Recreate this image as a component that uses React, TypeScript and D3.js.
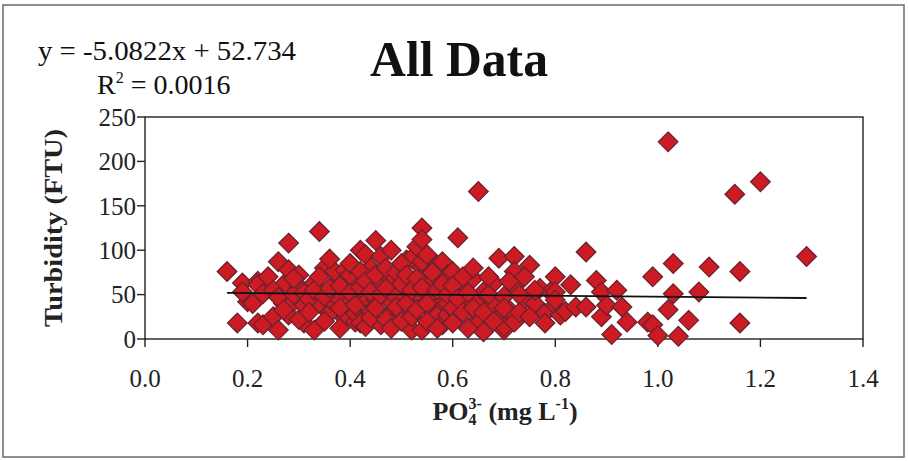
import React from "react";
import * as d3 from "d3";

// PO4 (mg/L) values
const phosphate: number[] = [
  0.16, 0.18, 0.19, 0.20, 0.22, 0.22, 0.19, 0.21, 0.22, 0.23, 0.23, 0.24, 0.25, 0.26, 0.26, 0.27, 0.27, 0.28, 0.28, 0.28,
  0.29, 0.30, 0.30, 0.31, 0.31, 0.33, 0.33, 0.34, 0.34, 0.35, 0.36, 0.37, 0.37, 0.37, 0.38, 0.39, 0.39, 0.40, 0.41, 0.41,
  0.41, 0.42, 0.42, 0.43, 0.43, 0.43, 0.44, 0.44, 0.45, 0.45, 0.46, 0.46, 0.46, 0.48, 0.48, 0.48, 0.50, 0.50, 0.51, 0.51,
  0.51, 0.52, 0.52, 0.53, 0.53, 0.53, 0.54, 0.54, 0.54, 0.54, 0.54, 0.55, 0.56, 0.56, 0.56, 0.57, 0.57, 0.58, 0.58, 0.58,
  0.59, 0.59, 0.59, 0.60, 0.61, 0.61, 0.62, 0.63, 0.64, 0.65, 0.65, 0.65, 0.65, 0.66, 0.66, 0.68, 0.68, 0.69, 0.69, 0.70,
  0.70, 0.71, 0.72, 0.72, 0.72, 0.72, 0.74, 0.75, 0.76, 0.77, 0.78, 0.78, 0.79, 0.80, 0.80, 0.80, 0.80, 0.81, 0.82, 0.83,
  0.84, 0.86, 0.86, 0.88, 0.89, 0.89, 0.90, 0.91, 0.92, 0.93, 0.94, 0.98, 0.99, 0.99, 1.00, 1.02, 1.02, 1.03, 1.03, 1.04,
  1.06, 1.08, 1.10, 1.15, 1.16, 1.16, 1.20, 1.29,
  0.25, 0.26, 0.27, 0.29, 0.29, 0.30, 0.31, 0.32, 0.32, 0.33, 0.34, 0.35, 0.35, 0.36, 0.36, 0.38, 0.38, 0.38, 0.40, 0.40,
  0.40, 0.41, 0.42, 0.42, 0.43, 0.44, 0.44, 0.45, 0.45, 0.46, 0.47, 0.47, 0.47, 0.48, 0.48, 0.49, 0.49, 0.49, 0.50, 0.50,
  0.50, 0.51, 0.51, 0.52, 0.52, 0.53, 0.53, 0.54, 0.55, 0.55, 0.55, 0.56, 0.57, 0.57, 0.58, 0.59, 0.60, 0.60, 0.60, 0.61,
  0.62, 0.62, 0.63, 0.63, 0.64, 0.64, 0.66, 0.67, 0.67, 0.68, 0.70, 0.70, 0.71, 0.73, 0.73, 0.74, 0.75, 0.76,
];

// Turbidity (FTU) values
const turbidity: number[] = [
  76, 18, 63, 42, 65, 18, 53, 40, 61, 51, 16, 70, 25, 87, 10, 61, 40, 108, 78, 27,
  42, 59, 72, 38, 18, 63, 10, 121, 40, 80, 29, 63, 40, 76, 44, 78, 23, 42, 66, 19,
  29, 100, 18, 95, 46, 14, 80, 31, 111, 44, 93, 63, 16, 68, 42, 29, 29, 51, 63, 18,
  89, 91, 10, 44, 104, 52, 125, 112, 80, 10, 87, 63, 31, 50, 68, 83, 27, 42, 16, 87,
  72, 27, 40, 76, 114, 27, 59, 42, 68, 166, 23, 44, 18, 53, 8, 63, 40, 91, 23, 10,
  14, 33, 93, 76, 59, 19, 44, 83, 40, 57, 29, 18, 53, 70, 53, 38, 44, 27, 31, 61,
  36, 98, 36, 66, 53, 25, 38, 5, 55, 36, 19, 19, 70, 16, 4, 222, 33, 85, 51, 3,
  21, 53, 81, 163, 76, 18, 177, 93,
  55, 47, 33, 50, 68, 22, 52, 45, 30, 55, 70, 48, 20, 57, 90, 60, 35, 12, 52, 72,
  85, 38, 58, 76, 65, 53, 24, 72, 35, 50, 80, 22, 57, 100, 12, 48, 75, 36, 85, 62,
  20, 40, 72, 55, 25, 68, 33, 58, 40, 20, 95, 75, 55, 12, 62, 50, 35, 60, 18, 45,
  70, 30, 52, 12, 80, 35, 30, 50, 70, 20, 48, 35, 65, 50, 30, 70, 25, 55,
];

const xTicks: number[] = [0, 0.2, 0.4, 0.6, 0.8, 1.0, 1.2, 1.4];
const yTicks: number[] = [0, 50, 100, 150, 200, 250];
const slope = -5.0822;
const intercept = 52.734;
const trendRange: number[] = [0.16, 1.29];

const W = 908;
const H = 461;
const L = 145, R = 863, T = 117, B = 339;
const FONT = "'Liberation Serif', 'Times New Roman', serif";

export default function App() {
  const x = d3.scaleLinear().domain([0, 1.4]).range([L, R]);
  const y = d3.scaleLinear().domain([0, 250]).range([B, T]);
  const r = 9.8;
  const diamond = `M0,${-r}L${r},0L0,${r}L${-r},0Z`;
  const line = d3
    .line<number>()
    .x((d) => x(d))
    .y((d) => y(slope * d + intercept));

  return (
    <svg
      width={W}
      height={H}
      style={{ position: "absolute", left: 0, top: 0, background: "#fff" }}
      fontFamily={FONT}
    >
      <rect x={0} y={0} width={W} height={H} fill="#fff" />
      <rect x={3} y={5} width={901} height={452} fill="none" stroke="#6a6a6a" strokeWidth={1.5} />

      {/* equation */}
      <text x={38} y={60} fontSize={28} fill="#111" textLength={258} lengthAdjust="spacingAndGlyphs">
        y = -5.0822x + 52.734
      </text>
      <text x={97} y={94} fontSize={28} fill="#111">
        R<tspan fontSize={16} dy={-11}>2</tspan>
        <tspan dy={11}> = 0.0016</tspan>
      </text>

      {/* title */}
      <text x={370} y={76} fontSize={50} fontWeight="bold" fill="#111" textLength={178} lengthAdjust="spacingAndGlyphs">
        All Data
      </text>

      {/* plot frame */}
      <rect x={L} y={T} width={R - L} height={B - T} fill="#fff" stroke="#222" strokeWidth={1.4} />

      {/* y ticks */}
      {yTicks.map((t) => (
        <g key={"y" + t}>
          <line x1={L - 8} x2={L} y1={y(t)} y2={y(t)} stroke="#222" strokeWidth={1.4} />
          <text x={L - 9} y={y(t)} dy="0.35em" textAnchor="end" fontSize={25} fill="#222">
            {t}
          </text>
        </g>
      ))}
      {/* x ticks */}
      {xTicks.map((t) => (
        <g key={"x" + t}>
          <line x1={x(t)} x2={x(t)} y1={B} y2={B + 8} stroke="#222" strokeWidth={1.4} />
          <text x={x(t)} y={387} textAnchor="middle" fontSize={25} fill="#222">
            {t.toFixed(1)}
          </text>
        </g>
      ))}

      {/* points */}
      {phosphate.map((p, i) => (
        <path
          key={i}
          d={diamond}
          transform={`translate(${x(p)},${y(turbidity[i])})`}
          fill="#cc1b22"
          stroke="#6b2330"
          strokeWidth={1.3}
        />
      ))}

      {/* trend line */}
      <path d={line(trendRange) || ""} stroke="#111" strokeWidth={1.8} fill="none" />

      {/* axis labels */}
      <text
        transform={`translate(62,${(T + B) / 2}) rotate(-90)`}
        textAnchor="middle"
        fontSize={26}
        fontWeight="bold"
        fill="#222"
        textLength={198}
        lengthAdjust="spacingAndGlyphs"
      >
        Turbidity (FTU)
      </text>
      <text x={505} y={420} textAnchor="middle" fontSize={26} fontWeight="bold" fill="#222">
        PO<tspan fontSize={16} dy={5}>4</tspan>
        <tspan fontSize={16} dy={-16} dx={-8}>3-</tspan>
        <tspan fontSize={26} dy={11}> (mg L</tspan>
        <tspan fontSize={16} dy={-11}>-1</tspan>
        <tspan fontSize={26} dy={11}>)</tspan>
      </text>
    </svg>
  );
}
